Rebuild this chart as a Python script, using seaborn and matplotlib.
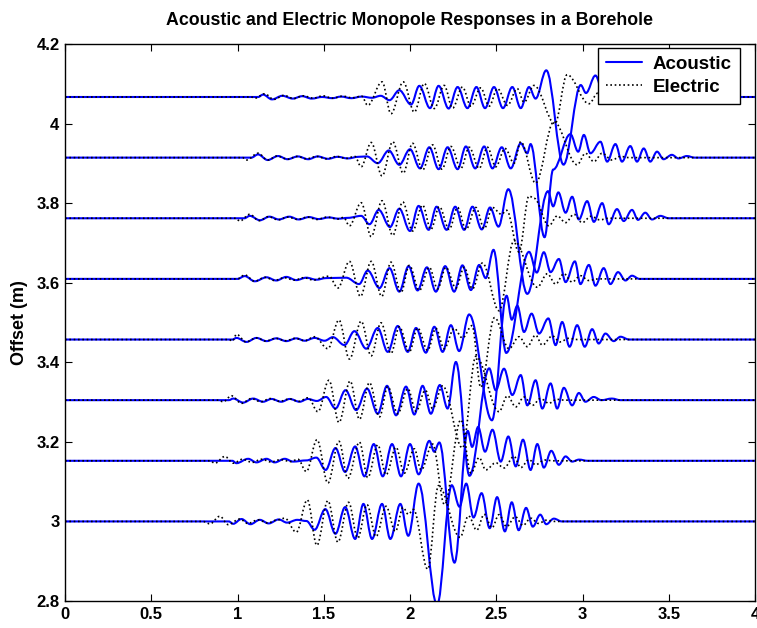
import matplotlib
matplotlib.use("Agg")
import matplotlib.pyplot as plt
from matplotlib.path import Path
from matplotlib.patches import PathPatch
from matplotlib.lines import Line2D
import seaborn as sns

# Receiver offsets (m): eight receivers spaced half a foot apart
offsets = [3.0, 3.1524, 3.3048, 3.4572, 3.6096, 3.762, 3.9144, 4.0668]

# Waveform turning points (time, amplitude about the receiver offset)
acoustic_3000 = [(0.95, 0), (0.975, -0.006), (1.023, 0.006), (1.075, -0.007), (1.129, 0.004), (1.181, -0.005),
                 (1.239, 0.005), (1.287, -0.003), (1.347, 0.004), (1.40, 0.001), (1.447, -0.021), (1.509, 0.031),
                 (1.568, -0.031), (1.624, 0.036), (1.682, -0.044), (1.730, 0.044), (1.780, -0.044), (1.838, 0.044),
                 (1.886, -0.044), (1.944, 0.044), (1.990, -0.036), (2.05, 0.095), (2.157, -0.21), (2.242, 0.091),
                 (2.287, 0.037), (2.326, 0.095), (2.368, 0.010), (2.415, 0.071), (2.462, -0.017), (2.505, 0.061),
                 (2.55, -0.025), (2.59, 0.048), (2.63, -0.022), (2.673, 0.034), (2.712, -0.013), (2.755, 0.017),
                 (2.79, -0.007), (2.834, 0.007), (2.88, 0)]
electric_3000 = [(0.80, 0), (0.84, -0.006), (0.898, 0.013), (0.946, -0.008), (1.013, 0.006), (1.06, -0.005),
                 (1.12, 0.004), (1.175, -0.004), (1.225, 0.003), (1.274, 0.008), (1.341, -0.027), (1.405, 0.054),
                 (1.46, -0.060), (1.524, 0.052), (1.582, -0.052), (1.644, 0.048), (1.697, -0.042), (1.751, 0.042),
                 (1.803, -0.038), (1.861, 0.038), (1.915, -0.025), (1.96, 0.035), (1.99, 0.018), (2.02, 0.03),
                 (2.103, -0.12), (2.165, 0.09), (2.29, -0.04), (2.339, 0.014), (2.387, -0.022), (2.43, 0.018),
                 (2.475, -0.016), (2.516, 0.017), (2.56, -0.013), (2.61, 0.012), (2.655, -0.01), (2.70, 0.008),
                 (2.745, -0.005), (2.79, 0.003), (2.84, 0)]

acoustic_3152 = [(0.97, 0), (0.994, -0.006), (1.062, 0.005), (1.110, -0.004), (1.168, 0.005), (1.216, -0.004),
                 (1.274, 0.005), (1.322, -0.002), (1.40, 0.001), (1.457, 0.008), (1.511, -0.023), (1.568, 0.032),
                 (1.624, -0.028), (1.682, 0.036), (1.736, -0.039), (1.790, 0.042), (1.842, -0.039), (1.896, 0.042),
                 (1.948, -0.039), (2.0, 0.042), (2.05, -0.034), (2.112, 0.05), (2.14, 0.023), (2.17, 0.046),
                 (2.258, -0.256), (2.335, 0.075), (2.36, 0.035), (2.395, 0.085), (2.435, 0.023), (2.478, 0.078),
                 (2.526, -0.002), (2.57, 0.061), (2.613, -0.014), (2.655, 0.053), (2.699, -0.023), (2.738, 0.042),
                 (2.776, -0.017), (2.819, 0.025), (2.863, -0.010), (2.902, 0.011), (2.94, -0.002), (2.98, 0.003),
                 (3.03, 0)]
electric_3152 = [(0.84, 0), (0.869, -0.006), (0.927, 0.011), (0.975, -0.006), (1.03, 0.004), (1.085, -0.004),
                 (1.14, 0.004), (1.195, -0.003), (1.25, 0.003), (1.31, -0.002), (1.35, 0.004), (1.399, -0.027),
                 (1.461, 0.053), (1.524, -0.056), (1.588, 0.049), (1.640, -0.044), (1.707, 0.047), (1.755, -0.042),
                 (1.813, 0.040), (1.861, -0.035), (1.919, 0.034), (1.967, -0.031), (2.025, 0.030), (2.064, -0.023),
                 (2.131, 0.042), (2.2, -0.11), (2.295, 0.103), (2.353, -0.031), (2.401, 0.008), (2.439, -0.023),
                 (2.497, -0.005), (2.545, -0.018), (2.603, 0.011), (2.642, -0.017), (2.690, 0.003), (2.728, -0.010),
                 (2.78, 0.002), (2.83, 0)]

acoustic_3305 = [(0.95, 0), (0.975, 0.004), (1.033, -0.006), (1.091, 0.004), (1.148, -0.004), (1.197, 0.003),
                 (1.254, -0.004), (1.303, 0.003), (1.360, -0.004), (1.408, 0.003), (1.46, -0.002), (1.514, 0.008),
                 (1.568, -0.021), (1.626, 0.025), (1.688, -0.025), (1.751, 0.029), (1.813, -0.034), (1.867, 0.036),
                 (1.919, -0.038), (1.977, 0.034), (2.025, -0.036), (2.073, 0.036), (2.121, -0.034), (2.173, 0.038),
                 (2.218, -0.021), (2.266, 0.096), (2.345, -0.19), (2.459, 0.08), (2.497, 0.025), (2.545, 0.079),
                 (2.593, 0.013), (2.642, 0.063), (2.68, -0.013), (2.728, 0.05), (2.767, -0.021), (2.815, 0.042),
                 (2.853, -0.021), (2.892, 0.031), (2.94, -0.013), (2.979, 0.018), (3.017, -0.004), (3.065, 0.008),
                 (3.11, 0), (3.17, 0.004), (3.22, 0)]
electric_3305 = [(0.89, 0), (0.917, -0.004), (0.965, 0.011), (1.023, -0.008), (1.08, 0.004), (1.135, -0.004),
                 (1.19, 0.004), (1.245, -0.003), (1.30, 0.003), (1.355, -0.003), (1.41, 0.006), (1.466, -0.029),
                 (1.530, 0.050), (1.588, -0.056), (1.653, 0.048), (1.707, -0.048), (1.765, 0.044), (1.823, -0.042),
                 (1.871, 0.034), (1.929, -0.034), (1.987, 0.029), (2.035, -0.028), (2.089, 0.025), (2.131, -0.021),
                 (2.189, 0.036), (2.304, -0.12), (2.382, 0.11), (2.516, -0.029), (2.565, 0.011), (2.613, -0.017),
                 (2.661, 0.008), (2.709, -0.013), (2.757, 0.004), (2.805, -0.008), (2.85, 0.002), (2.9, 0)]

acoustic_3457 = [(0.97, 0), (0.994, 0.004), (1.052, -0.006), (1.110, 0.004), (1.168, -0.004), (1.225, 0.003),
                 (1.283, -0.004), (1.341, 0.003), (1.389, -0.003), (1.447, 0.004), (1.505, -0.003), (1.553, 0.006),
                 (1.620, -0.014), (1.678, 0.021), (1.746, -0.023), (1.813, 0.029), (1.871, -0.031), (1.929, 0.034),
                 (1.987, -0.031), (2.035, 0.029), (2.092, -0.033), (2.141, 0.032), (2.189, -0.031), (2.237, 0.036),
                 (2.285, -0.029), (2.343, 0.063), (2.475, -0.203), (2.56, 0.11), (2.59, 0.05), (2.622, 0.085),
                 (2.661, 0.019), (2.705, 0.065), (2.748, 0.015), (2.802, 0.053), (2.844, -0.014), (2.882, 0.044),
                 (2.925, -0.018), (2.969, 0.036), (3.013, -0.018), (3.056, 0.026), (3.094, -0.010), (3.133, 0.015),
                 (3.181, -0.004), (3.22, 0.007), (3.27, 0)]
electric_3457 = [(0.95, 0), (0.97, -0.004), (0.994, 0.013), (1.05, -0.006), (1.11, 0.004), (1.165, -0.004),
                 (1.22, 0.003), (1.28, -0.003), (1.335, 0.003), (1.39, -0.003), (1.447, 0.007), (1.524, -0.023),
                 (1.588, 0.049), (1.649, -0.049), (1.717, 0.046), (1.775, -0.041), (1.832, 0.042), (1.890, -0.035),
                 (1.938, 0.032), (1.996, -0.031), (2.044, 0.029), (2.102, -0.027), (2.150, 0.028), (2.198, -0.023),
                 (2.256, 0.028), (2.304, 0.004), (2.36, 0.035), (2.41, -0.12), (2.49, 0.055), (2.574, -0.023),
                 (2.632, 0.007), (2.68, -0.018), (2.728, 0.011), (2.767, -0.014), (2.825, 0.009), (2.87, -0.006),
                 (2.92, 0.003), (2.97, 0)]

acoustic_3610 = [(1.0, 0), (1.042, 0.007), (1.100, -0.006), (1.168, 0.004), (1.225, -0.004), (1.283, 0.005),
                 (1.341, -0.003), (1.399, 0.003), (1.457, -0.002), (1.514, 0.002), (1.63, 0.003), (1.705, -0.013),
                 (1.755, 0.021), (1.823, -0.023), (1.881, 0.027), (1.938, -0.032), (1.992, 0.032), (2.044, -0.029),
                 (2.098, 0.029), (2.150, -0.032), (2.204, 0.032), (2.256, -0.032), (2.304, 0.034), (2.353, -0.028),
                 (2.401, 0.035), (2.439, 0.002), (2.484, 0.073), (2.558, -0.186), (2.69, 0.068), (2.735, 0.016),
                 (2.776, 0.067), (2.815, 0.017), (2.863, 0.050), (2.902, -0.008), (2.956, 0.044), (2.988, -0.013),
                 (3.037, 0.035), (3.075, -0.017), (3.123, 0.027), (3.162, -0.013), (3.206, 0.017), (3.249, -0.004),
                 (3.287, 0.008), (3.33, 0)]
electric_3610 = [(1.0, 0), (1.042, 0.010), (1.10, -0.006), (1.16, 0.004), (1.215, -0.004), (1.27, 0.003),
                 (1.33, -0.003), (1.385, 0.003), (1.44, -0.003), (1.50, 0.004), (1.53, 0.007), (1.582, -0.023),
                 (1.649, 0.044), (1.713, -0.044), (1.775, 0.044), (1.836, -0.044), (1.890, 0.042), (1.948, -0.034),
                 (1.996, 0.034), (2.054, -0.029), (2.112, 0.029), (2.160, -0.025), (2.208, 0.029), (2.266, -0.023),
                 (2.314, 0.029), (2.362, -0.025), (2.420, 0.040), (2.516, -0.08), (2.603, 0.096), (2.738, -0.021),
                 (2.796, 0.013), (2.844, -0.013), (2.892, 0.013), (2.940, -0.008), (2.988, 0.008), (3.037, -0.004),
                 (3.09, 0)]

acoustic_3762 = [(1.04, 0), (1.071, 0.006), (1.13, -0.005), (1.185, 0.004), (1.24, -0.003), (1.30, 0.004),
                 (1.355, -0.003), (1.415, 0.003), (1.47, -0.002), (1.53, 0.002), (1.585, -0.001), (1.64, 0.001),
                 (1.717, 0.006), (1.765, -0.015), (1.819, 0.021), (1.884, -0.022), (1.938, 0.024), (2.0, -0.032),
                 (2.050, 0.031), (2.108, -0.029), (2.154, 0.029), (2.212, -0.029), (2.262, 0.029), (2.314, -0.029),
                 (2.362, 0.029), (2.416, -0.028), (2.464, 0.027), (2.513, -0.021), (2.570, 0.073), (2.68, -0.19),
                 (2.80, 0.068), (2.83, 0.03), (2.86, 0.065), (2.902, 0.014), (2.940, 0.054), (2.979, -0.003),
                 (3.027, 0.043), (3.066, -0.009), (3.114, 0.038), (3.152, -0.015), (3.200, 0.023), (3.239, -0.007),
                 (3.287, 0.021), (3.322, -0.004), (3.364, 0.014), (3.403, -0.003), (3.451, 0.006), (3.5, 0)]
electric_3762 = [(0.99, 0), (1.013, -0.007), (1.071, 0.010), (1.125, -0.006), (1.18, 0.004), (1.235, -0.004),
                 (1.29, 0.003), (1.35, -0.003), (1.405, 0.003), (1.46, -0.003), (1.52, 0.003), (1.58, -0.002),
                 (1.615, 0.002), (1.649, -0.019), (1.717, 0.039), (1.775, -0.046), (1.838, 0.044), (1.900, -0.043),
                 (1.958, 0.041), (2.015, -0.032), (2.073, 0.033), (2.121, -0.028), (2.170, 0.029), (2.227, -0.028),
                 (2.276, 0.027), (2.324, -0.028), (2.382, 0.027), (2.430, -0.026), (2.478, 0.027), (2.53, 0.01),
                 (2.56, 0.02), (2.632, -0.085), (2.69, 0.056), (2.72, 0.05), (2.805, -0.019), (2.854, 0.006),
                 (2.902, -0.011), (2.950, 0.010), (2.998, -0.011), (3.05, 0.005), (3.1, -0.004), (3.15, 0)]

acoustic_3914 = [(1.08, 0), (1.119, 0.008), (1.175, -0.006), (1.235, 0.004), (1.29, -0.004), (1.35, 0.003),
                 (1.41, -0.004), (1.465, 0.003), (1.525, -0.003), (1.58, 0.002), (1.64, -0.002), (1.70, 0.002),
                 (1.75, 0.003), (1.813, -0.014), (1.877, 0.018), (1.938, -0.018), (2.0, 0.021), (2.058, -0.027),
                 (2.112, 0.026), (2.166, -0.029), (2.218, 0.026), (2.276, -0.029), (2.324, 0.028), (2.378, -0.027),
                 (2.430, 0.028), (2.478, -0.027), (2.532, 0.026), (2.584, -0.027), (2.642, 0.036), (2.680, 0.011),
                 (2.699, 0.034), (2.78, -0.2), (2.83, -0.03), (2.93, 0.059), (2.975, 0.015), (3.008, 0.057),
                 (3.046, 0.011), (3.104, 0.040), (3.143, -0.010), (3.191, 0.034), (3.229, -0.010), (3.277, 0.029),
                 (3.316, -0.010), (3.355, 0.023), (3.393, -0.010), (3.432, 0.015), (3.47, -0.004), (3.518, 0.007),
                 (3.557, -0.002), (3.605, 0.004), (3.65, 0)]
electric_3914 = [(1.03, 0), (1.052, -0.006), (1.119, 0.011), (1.175, -0.006), (1.23, 0.004), (1.29, -0.004),
                 (1.345, 0.003), (1.40, -0.003), (1.46, 0.003), (1.515, -0.003), (1.575, 0.003), (1.63, -0.002),
                 (1.68, 0.003), (1.717, -0.023), (1.775, 0.038), (1.838, -0.046), (1.900, 0.040), (1.961, -0.039),
                 (2.015, 0.036), (2.073, -0.031), (2.131, 0.032), (2.185, -0.029), (2.237, 0.028), (2.295, -0.027),
                 (2.343, 0.026), (2.401, -0.027), (2.449, 0.026), (2.497, -0.023), (2.551, 0.023), (2.603, -0.014),
                 (2.642, 0.040), (2.728, -0.064), (2.834, 0.090), (2.969, -0.018), (3.017, 0.011), (3.066, -0.010),
                 (3.114, 0.011), (3.171, -0.006), (3.22, 0.003), (3.27, 0)]

acoustic_4067 = [(1.12, 0), (1.148, 0.006), (1.20, -0.006), (1.26, 0.003), (1.32, -0.004), (1.375, 0.002),
                 (1.43, -0.004), (1.49, 0.0), (1.55, -0.003), (1.60, 0.001), (1.66, -0.003), (1.72, 0.001),
                 (1.78, -0.002), (1.83, 0.003), (1.881, -0.008), (1.938, 0.017), (2.006, -0.019), (2.054, 0.028),
                 (2.116, -0.028), (2.166, 0.028), (2.224, -0.029), (2.276, 0.025), (2.333, -0.028), (2.385, 0.025),
                 (2.435, -0.028), (2.487, 0.025), (2.539, -0.028), (2.593, 0.025), (2.642, -0.028), (2.690, 0.025),
                 (2.728, -0.004), (2.79, 0.067), (2.89, -0.17), (2.99, 0.03), (3.02, 0.01), (3.075, 0.054),
                 (3.12, 0.01), (3.16, 0.045), (3.2, -0.01), (3.25, 0.035), (3.29, -0.012), (3.34, 0.028),
                 (3.38, -0.01), (3.42, 0.02), (3.47, -0.006), (3.51, 0.012), (3.56, -0.003), (3.6, 0.006), (3.65, 0)]
electric_4067 = [(1.08, 0), (1.10, -0.003), (1.158, 0.008), (1.21, -0.006), (1.27, 0.004), (1.325, -0.004),
                 (1.38, 0.003), (1.44, -0.003), (1.495, 0.003), (1.55, -0.003), (1.61, 0.002), (1.665, -0.002),
                 (1.72, 0.002), (1.755, -0.021), (1.838, 0.038), (1.890, -0.042), (1.961, 0.038), (2.025, -0.038),
                 (2.083, 0.034), (2.141, -0.029), (2.198, 0.029), (2.247, -0.028), (2.304, 0.025), (2.353, -0.023),
                 (2.410, 0.023), (2.459, -0.023), (2.507, 0.021), (2.565, -0.021), (2.622, 0.021), (2.661, -0.013),
                 (2.719, 0.029), (2.840, -0.067), (2.911, 0.056), (3.037, -0.017), (3.09, 0.01), (3.14, -0.008),
                 (3.2, 0.005), (3.25, 0)]

acoustic = [acoustic_3000, acoustic_3152, acoustic_3305, acoustic_3457,
            acoustic_3610, acoustic_3762, acoustic_3914, acoustic_4067]
electric = [electric_3000, electric_3152, electric_3305, electric_3457,
            electric_3610, electric_3762, electric_3914, electric_4067]

x_ticks = [0, 0.5, 1, 1.5, 2, 2.5, 3, 3.5, 4]
x_labels = ["0", "0.5", "1", "1.5", "2", "2.5", "3", "3.5", "4"]
y_ticks = [2.8, 3.0, 3.2, 3.4, 3.6, 3.8, 4.0, 4.2]
y_labels = ["2.8", "3", "3.2", "3.4", "3.6", "3.8", "4", "4.2"]

T_START, T_END = 0.0, 4.0


def trace_path(points, base):
    """Smooth trace through the turning points, flat before and after."""
    pts = [(T_START, 0.0)] + list(points) + [(T_END, 0.0)]
    verts = [(pts[0][0], base + pts[0][1])]
    codes = [Path.MOVETO]
    for (t0, a0), (t1, a1) in zip(pts[:-1], pts[1:]):
        d = (t1 - t0) * 0.36
        verts += [(t0 + d, base + a0), (t1 - d, base + a1), (t1, base + a1)]
        codes += [Path.CURVE4] * 3
    return Path(verts, codes)


sns.set_theme(style="ticks")
plt.rcParams["font.family"] = ["Liberation Sans", "DejaVu Sans"]
plt.rcParams["font.weight"] = "bold"
plt.rcParams["axes.labelweight"] = "bold"
plt.rcParams["axes.titleweight"] = "bold"
plt.rcParams["text.color"] = "black"
plt.rcParams["axes.labelcolor"] = "black"

fig = plt.figure(figsize=(7.57, 6.28), dpi=100)
fig.patch.set_facecolor("white")
ax = fig.add_axes([65 / 757, 1 - 601 / 628, 690 / 757, 557 / 628])

blue = "#0000ff"
for base, a_pts, e_pts in zip(offsets, acoustic, electric):
    ax.add_patch(PathPatch(trace_path(a_pts, base), facecolor="none",
                           edgecolor=blue, lw=1.5, zorder=2))
    ax.add_patch(PathPatch(trace_path(e_pts, base), facecolor="none",
                           edgecolor="black", lw=1.2, linestyle=(0, (1, 1.6)), zorder=3))

ax.set_xlim(0, 4)
ax.set_ylim(2.8, 4.2)
ax.set_xticks(x_ticks)
ax.set_xticklabels(x_labels)
ax.set_yticks(y_ticks)
ax.set_yticklabels(y_labels)
ax.tick_params(direction="in", top=True, right=True, length=5, width=0.8,
               labelsize=12, colors="black", pad=4)
for sp in ax.spines.values():
    sp.set_visible(True)
    sp.set_color("black")
    sp.set_linewidth(1.0)
ax.set_facecolor("white")

ax.set_title("Acoustic and Electric Monopole Responses in a Borehole",
             fontsize=12.8, fontweight="bold", pad=14, color="black")
ax.set_ylabel("Offset (m)", fontsize=13, fontweight="bold", color="black")
ax.yaxis.set_label_coords(-0.054, 0.5)

handles = [Line2D([], [], color=blue, lw=1.5),
           Line2D([], [], color="black", lw=1.2, linestyle=(0, (1, 1.6)))]
leg = ax.legend(handles, ["Acoustic", "Electric"], loc="upper right",
                bbox_to_anchor=(0.978, 0.993), borderaxespad=0, frameon=True,
                fancybox=False, framealpha=1, edgecolor="black",
                prop={"weight": "bold", "size": 13.5}, handlelength=1.9,
                labelspacing=0.3, borderpad=0.42, handletextpad=0.6)
leg.get_frame().set_linewidth(1.0)
leg.set_zorder(5)

fig.savefig("out.png", dpi=100, facecolor="white")
